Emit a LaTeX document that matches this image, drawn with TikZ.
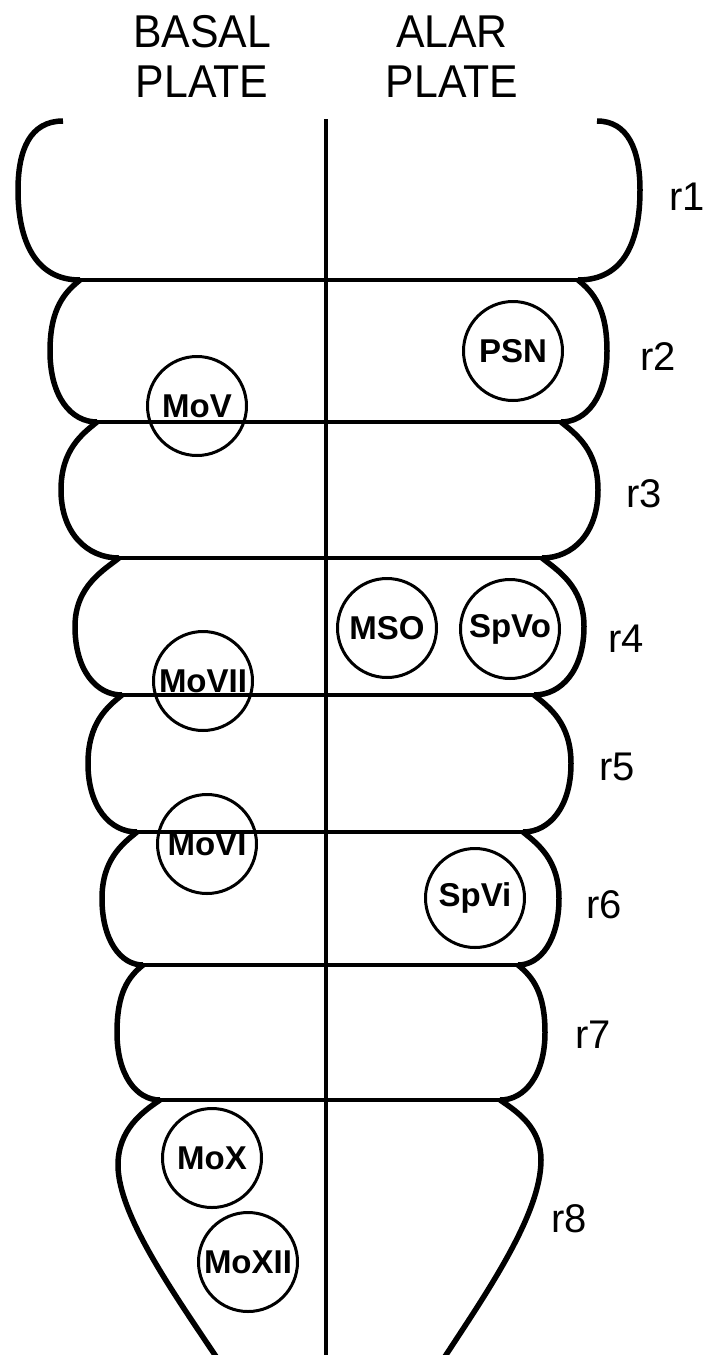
\documentclass[tikz,border=0pt]{standalone}
\usepackage{fontspec}
\setmainfont{Liberation Sans}
\newfontfamily\headfont[FakeStretch=0.93]{Liberation Sans}
\tikzset{
  outline/.style={line width=5.5pt, line cap=butt, line join=round},
  sepline/.style={line width=3.3pt},
  midline/.style={line width=3.8pt},
  nucleus/.style={circle, draw, line width=3pt, minimum size=99pt, inner sep=0pt,
    font=\fontsize{33}{36}\selectfont\bfseries},
  rlabel/.style={anchor=base west, inner sep=0pt, font=\fontsize{40}{44}\selectfont},
  plate/.style={anchor=base, inner sep=0pt, align=center,
    font=\headfont\fontsize{46}{50}\selectfont}
}
\newcommand\sideLeft[5]{%
  \draw[outline] (#1,#2) .. controls ({#1-15},{#2+12}) and (#5,{#2+28}) .. (#5,{(#2+#4)/2})
    .. controls (#5,{#4-25}) and ({#3+(#5-#3)*0.55},#4) .. (#3,#4);}
\newcommand\sideRight[5]{%
  \draw[outline] (#1,#2) .. controls ({#1+15},{#2+12}) and (#5,{#2+28}) .. (#5,{(#2+#4)/2})
    .. controls (#5,{#4-25}) and ({#3+(#5-#3)*0.55},#4) .. (#3,#4);}
\begin{document}
\begin{tikzpicture}[x=1pt,y=-1pt]
\useasboundingbox (0,0) rectangle (703,1355);
% headings
\node[plate] (basal) at (202,97) {BASAL\\PLATE};
\node[plate] (alar) at (452,97) {ALAR\\PLATE};
% junction coordinates
\coordinate (J1L) at (80,280);  \coordinate (J1R) at (578,280);
\coordinate (J2L) at (97,422);  \coordinate (J2R) at (561,422);
\coordinate (J3L) at (119,558); \coordinate (J3R) at (542,558);
\coordinate (J4L) at (122,695); \coordinate (J4R) at (534,695);
\coordinate (J5L) at (137,832); \coordinate (J5R) at (523,832);
\coordinate (J6L) at (143,965); \coordinate (J6R) at (518,965);
\coordinate (J7L) at (160,1100);\coordinate (J7R) at (500,1100);
% midline
\coordinate (midtop) at (326,119);
\coordinate (midbot) at (326,1358);
\draw[midline] (midtop) -- (midbot);
% r1
\draw[outline] (63,121) .. controls (30,121) and (18,150) .. (18,190)
  .. controls (18,240) and (35,280) .. (J1L);
\draw[outline] (597,121) .. controls (628,121) and (640,150) .. (640,190)
  .. controls (640,240) and (625,280) .. (J1R);
% r2 - r7 sides
\sideLeft{80}{280}{97}{422}{50}
\sideRight{578}{280}{561}{422}{607}
\sideLeft{97}{422}{119}{558}{61}
\sideRight{561}{422}{542}{558}{598}
\sideLeft{119}{558}{122}{695}{75}
\sideRight{542}{558}{534}{695}{584}
\sideLeft{122}{695}{137}{832}{88}
\sideRight{534}{695}{523}{832}{571}
\sideLeft{137}{832}{143}{965}{102}
\sideRight{523}{832}{518}{965}{559}
\sideLeft{143}{965}{160}{1100}{117}
\sideRight{518}{965}{500}{1100}{545}
% r8
\draw[outline] (J7L) .. controls (142,1112) and (118,1130) .. (118,1165)
  .. controls (118,1215) and (175,1295) .. (217,1358);
\draw[outline] (J7R) .. controls (518,1112) and (541,1128) .. (541,1160)
  .. controls (541,1215) and (485,1295) .. (444,1358);
% boundaries
\draw[sepline] (J1L) -- (J1R);
\draw[sepline] (J2L) -- (J2R);
\draw[sepline] (J3L) -- (J3R);
\draw[sepline] (J4L) -- (J4R);
\draw[sepline] (J5L) -- (J5R);
\draw[sepline] (J6L) -- (J6R);
\draw[sepline] (J7L) -- (J7R);
% nuclei
\node[nucleus] (psn) at (513,351) {PSN};
\node[nucleus] (mov) at (197,406) {MoV};
\node[nucleus] (mso) at (387,628) {MSO};
\node[nucleus] (spvo) at (510,629) {SpVo};
\node[nucleus] (movii) at (203,681) {MoVII};
\node[nucleus] (movi) at (207,844) {MoVI};
\node[nucleus] (spvi) at (475,898) {SpVi};
\node[nucleus] (mox) at (212,1158) {MoX};
\node[nucleus] (moxii) at (248,1262) {MoXII};
% rhombomere labels
\node[rlabel] (r1) at (669,210) {r1};
\node[rlabel] (r2) at (640,370) {r2};
\node[rlabel] (r3) at (626,507) {r3};
\node[rlabel] (r4) at (608,652) {r4};
\node[rlabel] (r5) at (599,780) {r5};
\node[rlabel] (r6) at (586,918) {r6};
\node[rlabel] (r7) at (575,1048) {r7};
\node[rlabel] (r8) at (551,1232) {r8};
\end{tikzpicture}
\end{document}
